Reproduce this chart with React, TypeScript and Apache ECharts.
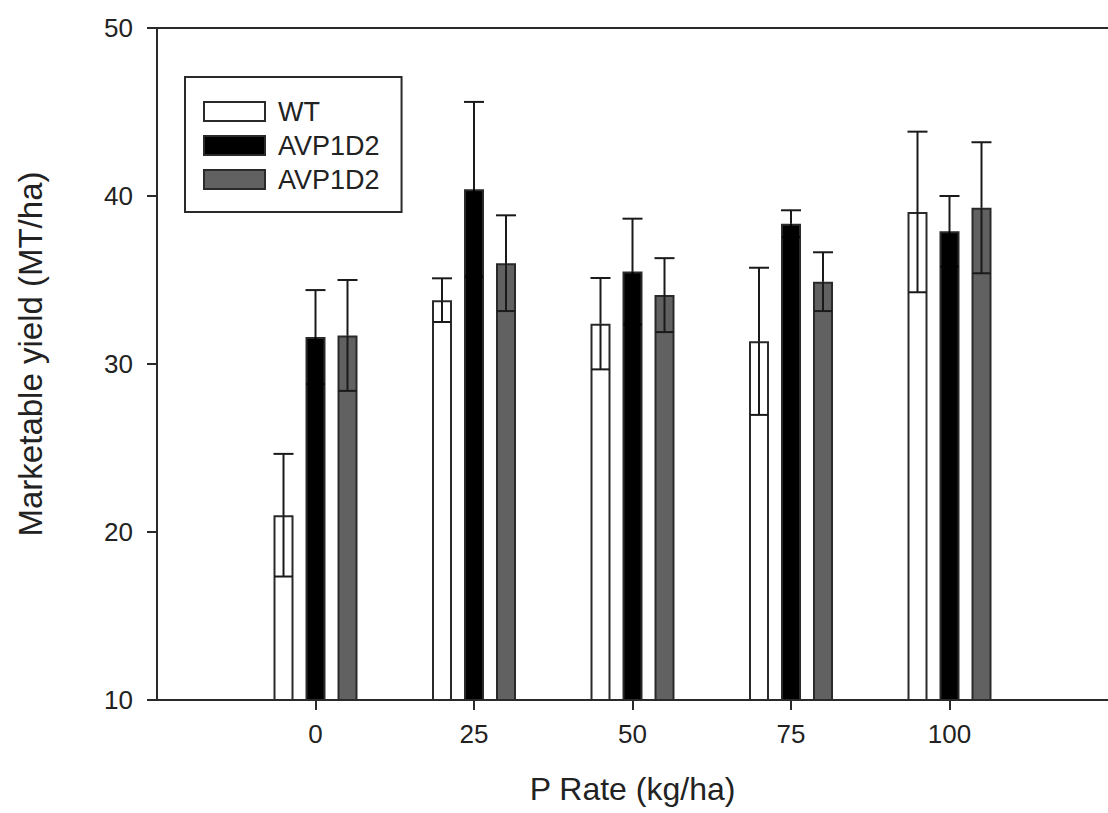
import React, { useEffect, useRef } from "react";
import * as echarts from "echarts";

const pRates = [0, 25, 50, 75, 100];
const legendLabels = ["WT", "AVP1D2", "AVP1D2"];
const wtMean = [21.0, 33.8, 32.4, 31.35, 39.05];
const wtErr = [3.65, 1.3, 2.72, 4.38, 4.78];
const avpMean = [31.6, 40.4, 35.5, 38.35, 37.9];
const avpErr = [2.8, 5.2, 3.15, 0.8, 2.1];
const avp2Mean = [31.7, 36.0, 34.1, 34.9, 39.3];
const avp2Err = [3.3, 2.85, 2.2, 1.75, 3.9];
const yTicks = [10, 20, 30, 40, 50];

const FONT = 'Arial, "Liberation Sans", sans-serif';
const EDGE = "#2a2a2a";
const ERR = "#1a1a1a";
const fills = ["#ffffff", "#000000", "#616161"];
const BAR_W = 20;
const BAR_GAP_PX = 12;

export default function App() {
  const ref = useRef<HTMLDivElement>(null);

  useEffect(() => {
    if (!ref.current) return;
    const chart = echarts.init(ref.current, null, { renderer: "svg" });
    const means = [wtMean, avpMean, avp2Mean];
    const errs = [wtErr, avpErr, avp2Err];
    const keys = ["s0", "s1", "s2"];

    const barSeries = means.map((m, i) => ({
      type: "bar",
      name: keys[i],
      xAxisIndex: 0,
      yAxisIndex: 0,
      barWidth: BAR_W,
      barGap: (BAR_GAP_PX / BAR_W) * 100 + "%",
      data: pRates.map((p, j) => [p, m[j]]),
      itemStyle: { color: fills[i], borderColor: EDGE, borderWidth: 2 },
      z: 2,
    }));

    const errSeries = means.map((m, i) => ({
      type: "custom",
      name: keys[i] + "_err",
      xAxisIndex: 0,
      yAxisIndex: 0,
      z: 5,
      data: pRates.map((p, j) => [p, m[j], errs[i][j]]),
      renderItem: (params: any, api: any) => {
        const x = api.value(0);
        const v = api.value(1);
        const e = api.value(2);
        const off = (i - 1) * (BAR_W + BAR_GAP_PX);
        const top = api.coord([x, v + e]);
        const mid = api.coord([x, v]);
        const bot = api.coord([x, v - e]);
        const cx = top[0] + off;
        const half = BAR_W / 2;
        const st = { stroke: ERR, lineWidth: 2 };
        // inside the bar the whisker takes the bar's own dark tone where the fill is black
        const inner = { stroke: fills[i] === "#000000" ? "#000000" : ERR, lineWidth: 2 };
        return {
          type: "group",
          children: [
            { type: "line", shape: { x1: cx, y1: top[1], x2: cx, y2: mid[1] }, style: st },
            { type: "line", shape: { x1: cx - half, y1: top[1], x2: cx + half, y2: top[1] }, style: st },
            { type: "line", shape: { x1: cx, y1: mid[1], x2: cx, y2: bot[1] }, style: inner },
            { type: "line", shape: { x1: cx - half + 1, y1: bot[1], x2: cx + half - 1, y2: bot[1] }, style: inner },
          ],
        };
      },
    }));

    chart.setOption({
      animation: false,
      textStyle: { fontFamily: FONT },
      grid: { left: 157, top: 28, right: -10, bottom: 113, containLabel: false },
      legend: {
        data: keys,
        orient: "vertical",
        left: 185,
        top: 77,
        padding: [21, 22, 19, 18],
        itemGap: 7,
        itemWidth: 61,
        itemHeight: 19,
        borderColor: EDGE,
        borderWidth: 2,
        icon: "rect",
        selectedMode: false,
        formatter: (name: string) => legendLabels[keys.indexOf(name)],
        textStyle: { fontSize: 27, color: "#222", fontFamily: FONT, padding: [0, 0, 0, 8] },
      },
      xAxis: [
        {
          type: "value",
          min: -25,
          max: 125,
          interval: 25,
          position: "bottom",
          name: "P Rate (kg/ha)",
          nameLocation: "middle",
          nameGap: 73,
          nameTextStyle: { fontSize: 32, color: "#222", fontFamily: FONT },
          axisLine: { show: true, onZero: false, lineStyle: { color: EDGE, width: 2 } },
          axisTick: {
            show: true,
            inside: false,
            length: 10,
            customValues: pRates,
            lineStyle: { color: EDGE, width: 2 },
          },
          axisLabel: {
            fontSize: 26,
            color: "#222",
            margin: 21,
            fontFamily: FONT,
            customValues: pRates,
          },
          splitLine: { show: false },
        },
        {
          type: "value",
          min: -25,
          max: 125,
          interval: 25,
          position: "top",
          axisLine: { show: true, onZero: false, lineStyle: { color: EDGE, width: 2 } },
          axisTick: { show: false },
          axisLabel: { show: false },
          splitLine: { show: false },
        },
      ],
      yAxis: {
        type: "value",
        min: yTicks[0],
        max: yTicks[yTicks.length - 1],
        interval: 10,
        name: "Marketable yield (MT/ha)",
        nameLocation: "middle",
        nameGap: 110,
        nameRotate: 90,
        nameTextStyle: { fontSize: 33, color: "#222", fontFamily: FONT, padding: [0, 0, 0, 20] },
        axisLine: { show: true, onZero: false, lineStyle: { color: EDGE, width: 2 } },
        axisTick: { show: true, inside: false, length: 10, lineStyle: { color: EDGE, width: 2 } },
        axisLabel: { fontSize: 26, color: "#222", margin: 24, fontFamily: FONT },
        splitLine: { show: false },
      },
      series: [...barSeries, ...errSeries],
    });

    return () => chart.dispose();
  }, []);

  return (
    <div
      ref={ref}
      style={{ position: "fixed", left: 0, top: 0, width: 1108, height: 813, background: "#fff" }}
    />
  );
}
